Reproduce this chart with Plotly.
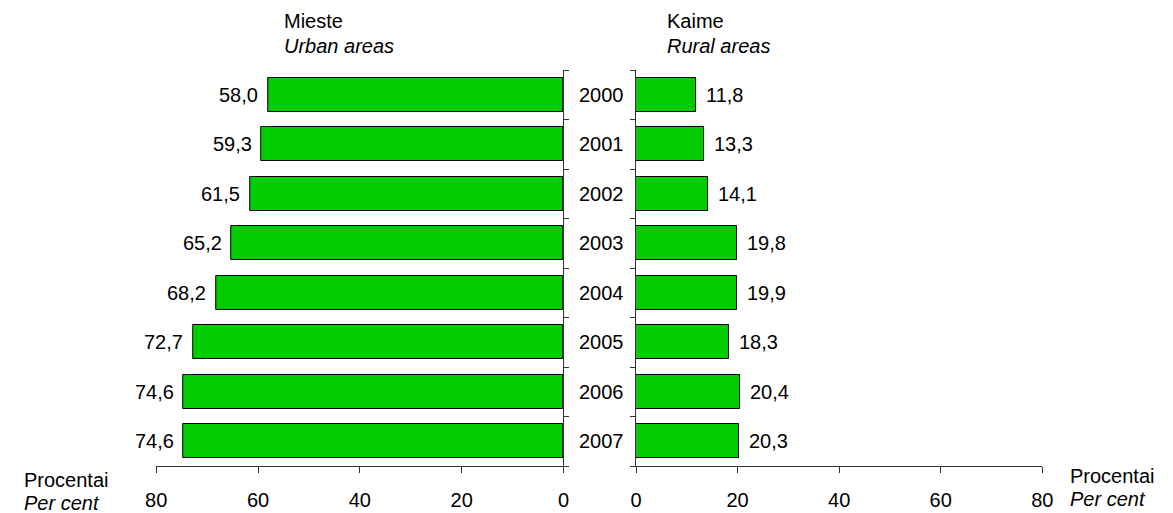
import plotly.graph_objects as go

years = ["2000", "2001", "2002", "2003", "2004", "2005", "2006", "2007"]
urban = [58.0, 59.3, 61.5, 65.2, 68.2, 72.7, 74.6, 74.6]
rural = [11.8, 13.3, 14.1, 19.8, 19.9, 18.3, 20.4, 20.3]
x_ticks = [0, 20, 40, 60, 80]

W, H = 1173, 513
FONT = "Arial, Liberation Sans, sans-serif"
FS = 20
GREEN = "#00CC00"

def fmt(v):
    return f"{v:.1f}".replace(".", ",")

idx = list(range(len(years)))

fig = go.Figure()
fig.add_trace(go.Bar(x=urban, y=idx, orientation="h", xaxis="x", yaxis="y",
                     marker=dict(color=GREEN, line=dict(color="black", width=1)),
                     width=0.68, showlegend=False, hoverinfo="skip"))
fig.add_trace(go.Bar(x=rural, y=idx, orientation="h", xaxis="x2", yaxis="y2",
                     marker=dict(color=GREEN, line=dict(color="black", width=1)),
                     width=0.68, showlegend=False, hoverinfo="skip"))

annotations = []
for i, v in enumerate(urban):
    annotations.append(dict(x=v, y=i, xref="x", yref="y", text=fmt(v), showarrow=False,
                            xanchor="right", xshift=-8, font=dict(size=FS, color="black", family=FONT)))
for i, v in enumerate(rural):
    annotations.append(dict(x=v, y=i, xref="x2", yref="y2", text=fmt(v), showarrow=False,
                            xanchor="left", xshift=8, font=dict(size=FS, color="black", family=FONT)))
for i, yr in enumerate(years):
    annotations.append(dict(x=601.5 / W, y=i, xref="paper", yref="y", text=yr, showarrow=False,
                            xanchor="center", font=dict(size=FS, color="black", family=FONT)))

def txt(x, ypix, text, anchor="left"):
    annotations.append(dict(x=x / W, y=1 - ypix / H, xref="paper", yref="paper", text=text,
                            showarrow=False, xanchor=anchor, yanchor="middle",
                            font=dict(size=FS, color="black", family=FONT)))

txt(276, 21, "Mieste")
txt(276, 46, "<i>Urban areas</i>")
txt(666, 21, "Kaime")
txt(666, 46, "<i>Rural areas</i>")
txt(11, 480, "Procentai")
txt(11, 503, "<i>Per cent</i>")
txt(1077, 476, "Procentai")
txt(1077, 499, "<i>Per cent</i>")

ydom = [1 - 466 / H, 1 - 70 / H]
bounds = [i - 0.5 for i in range(len(years) + 1)]
yrange = [len(years) - 0.5, -0.5]

xcommon = dict(tickvals=x_ticks, ticktext=[str(t) for t in x_ticks], ticks="outside", ticklen=6,
               tickcolor="#333", showline=True, linecolor="#333", linewidth=1, showgrid=False,
               zeroline=False, tickfont=dict(size=FS, color="black", family=FONT),
               ticklabelstandoff=10, fixedrange=True)
ycommon = dict(domain=ydom, range=yrange, tickvals=bounds, ticklen=5, tickcolor="#333",
               showticklabels=False, showgrid=False, zeroline=False)

fig.update_layout(
    width=W, height=H,
    margin=dict(l=0, r=0, t=0, b=0),
    paper_bgcolor="white", plot_bgcolor="white",
    bargap=0,
    font=dict(family=FONT, size=FS, color="black"),
    xaxis=dict(domain=[148 / W, 563 / W], range=[80, 0], anchor="y", **xcommon),
    xaxis2=dict(domain=[637 / W, 1051 / W], range=[0, 80], anchor="y2", **xcommon),
    yaxis=dict(anchor="x", side="right", ticks="outside", showline=True, linecolor="#333", **ycommon),
    yaxis3=dict(anchor="x", side="right", overlaying="y", ticks="inside", showline=False, **ycommon),
    yaxis2=dict(anchor="x2", side="left", ticks="outside", showline=True, linecolor="#333", **ycommon),
    yaxis4=dict(anchor="x2", side="left", overlaying="y2", ticks="inside", showline=False, **ycommon),
    annotations=annotations,
)

fig.write_html("out.html", config={"displayModeBar": False},
               post_script="document.body.style.margin='0';document.body.style.overflow='hidden';")
